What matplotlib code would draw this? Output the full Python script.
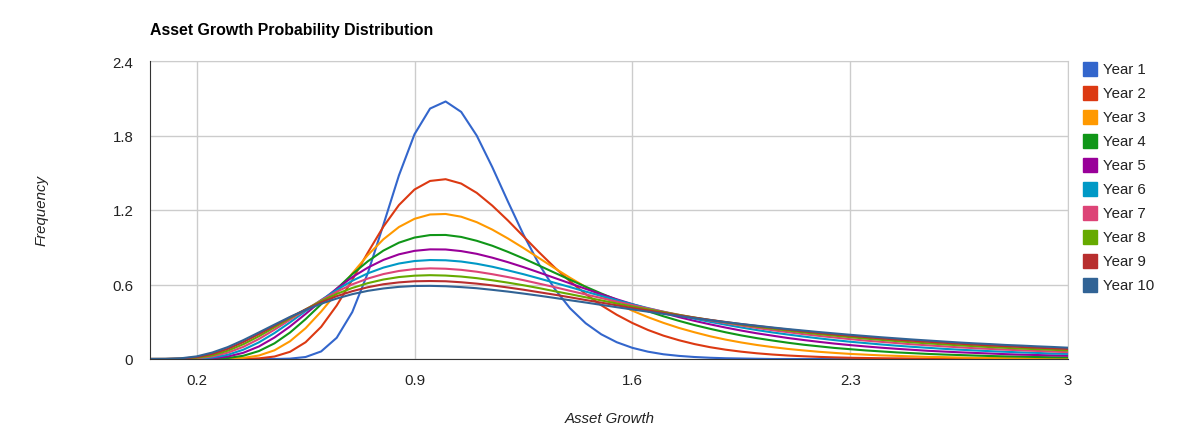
import numpy as np
import matplotlib
matplotlib.use("Agg")
import matplotlib.pyplot as plt
from matplotlib.patches import Rectangle

plt.rcParams['font.family'] = ['Liberation Sans', 'DejaVu Sans']

# asset growth grid (0.05 steps)
growth = [0.05, 0.10, 0.15, 0.20, 0.25, 0.30, 0.35, 0.40, 0.45, 0.50,
          0.55, 0.60, 0.65, 0.70, 0.75, 0.80, 0.85, 0.90, 0.95, 1.00,
          1.05, 1.10, 1.15, 1.20, 1.25, 1.30, 1.35, 1.40, 1.45, 1.50,
          1.55, 1.60, 1.65, 1.70, 1.75, 1.80, 1.85, 1.90, 1.95, 2.00,
          2.05, 2.10, 2.15, 2.20, 2.25, 2.30, 2.35, 2.40, 2.45, 2.50,
          2.55, 2.60, 2.65, 2.70, 2.75, 2.80, 2.85, 2.90, 2.95, 3.00]

year1 = [0, 0, 0, 0, 0, 0, 0, 0, 0, 0.003,
         0.016, 0.061, 0.171, 0.378, 0.692, 1.081, 1.479, 1.810, 2.017, 2.074,
         1.990, 1.799, 1.545, 1.269, 1.002, 0.764, 0.566, 0.408, 0.288, 0.199,
         0.135, 0.090, 0.059, 0.038, 0.025, 0.016, 0.010, 0.006, 0.004, 0.002,
         0, 0, 0, 0, 0, 0, 0, 0, 0, 0,
         0, 0, 0, 0, 0, 0, 0, 0, 0, 0]
year2 = [0, 0, 0, 0, 0, 0, 0.001, 0.005, 0.020, 0.058,
         0.135, 0.259, 0.431, 0.637, 0.857, 1.066, 1.240, 1.365, 1.434, 1.448,
         1.413, 1.338, 1.235, 1.116, 0.988, 0.860, 0.738, 0.625, 0.523, 0.433,
         0.356, 0.290, 0.234, 0.188, 0.151, 0.120, 0.095, 0.075, 0.059, 0.046,
         0.036, 0.028, 0.022, 0.017, 0.013, 0.010, 0.008, 0.006, 0.005, 0.004,
         0.003, 0.002, 0.002, 0.001, 0.001, 0.001, 0.001, 0, 0, 0]
year3 = [0, 0, 0, 0, 0, 0.002, 0.009, 0.028, 0.070, 0.143,
         0.248, 0.382, 0.533, 0.689, 0.837, 0.964, 1.063, 1.129, 1.164, 1.168,
         1.146, 1.102, 1.042, 0.971, 0.894, 0.813, 0.732, 0.654, 0.580, 0.510,
         0.447, 0.389, 0.337, 0.291, 0.250, 0.215, 0.183, 0.156, 0.133, 0.113,
         0.096, 0.081, 0.069, 0.058, 0.049, 0.041, 0.035, 0.029, 0.025, 0.021,
         0.017, 0.015, 0.012, 0.010, 0.009, 0.007, 0.006, 0.005, 0.004, 0.004]
year4 = [0, 0, 0, 0, 0.002, 0.008, 0.026, 0.064, 0.126, 0.213,
         0.321, 0.441, 0.565, 0.683, 0.787, 0.873, 0.937, 0.978, 0.998, 0.999,
         0.983, 0.952, 0.912, 0.863, 0.810, 0.753, 0.695, 0.638, 0.582, 0.528,
         0.477, 0.429, 0.385, 0.344, 0.307, 0.273, 0.243, 0.215, 0.190, 0.168,
         0.149, 0.131, 0.115, 0.102, 0.089, 0.079, 0.069, 0.061, 0.053, 0.047,
         0.041, 0.036, 0.032, 0.028, 0.024, 0.021, 0.019, 0.016, 0.014, 0.013]
year5 = [0, 0, 0, 0.001, 0.005, 0.020, 0.050, 0.101, 0.173, 0.262,
         0.363, 0.467, 0.567, 0.659, 0.736, 0.798, 0.843, 0.871, 0.883, 0.882,
         0.869, 0.847, 0.816, 0.780, 0.740, 0.697, 0.653, 0.609, 0.565, 0.522,
         0.481, 0.442, 0.405, 0.370, 0.337, 0.307, 0.279, 0.253, 0.229, 0.207,
         0.188, 0.169, 0.153, 0.138, 0.124, 0.112, 0.101, 0.091, 0.082, 0.074,
         0.066, 0.060, 0.054, 0.049, 0.044, 0.039, 0.035, 0.032, 0.029, 0.026]
year6 = [0, 0, 0, 0.003, 0.012, 0.034, 0.075, 0.134, 0.209, 0.295,
         0.386, 0.475, 0.557, 0.630, 0.690, 0.736, 0.769, 0.789, 0.797, 0.795,
         0.785, 0.767, 0.743, 0.714, 0.683, 0.649, 0.614, 0.579, 0.543, 0.508,
         0.474, 0.441, 0.410, 0.380, 0.351, 0.324, 0.299, 0.276, 0.254, 0.233,
         0.214, 0.197, 0.181, 0.166, 0.152, 0.139, 0.128, 0.117, 0.107, 0.098,
         0.090, 0.082, 0.075, 0.069, 0.063, 0.058, 0.053, 0.049, 0.044, 0.041]
year7 = [0, 0, 0.001, 0.006, 0.021, 0.051, 0.098, 0.161, 0.236, 0.316,
         0.397, 0.473, 0.542, 0.601, 0.648, 0.684, 0.709, 0.724, 0.730, 0.727,
         0.718, 0.703, 0.683, 0.660, 0.635, 0.607, 0.579, 0.549, 0.520, 0.491,
         0.462, 0.434, 0.407, 0.381, 0.356, 0.332, 0.310, 0.289, 0.269, 0.250,
         0.232, 0.216, 0.200, 0.186, 0.173, 0.160, 0.148, 0.138, 0.128, 0.118,
         0.110, 0.102, 0.094, 0.087, 0.081, 0.075, 0.070, 0.065, 0.060, 0.055]
year8 = [0, 0, 0.002, 0.010, 0.030, 0.067, 0.119, 0.183, 0.255, 0.329,
         0.400, 0.466, 0.524, 0.572, 0.611, 0.640, 0.660, 0.671, 0.675, 0.672,
         0.664, 0.651, 0.634, 0.615, 0.594, 0.571, 0.546, 0.522, 0.497, 0.472,
         0.447, 0.423, 0.400, 0.377, 0.355, 0.334, 0.314, 0.295, 0.277, 0.260,
         0.244, 0.229, 0.214, 0.200, 0.188, 0.176, 0.164, 0.154, 0.144, 0.134,
         0.126, 0.118, 0.110, 0.103, 0.096, 0.090, 0.084, 0.079, 0.074, 0.069]
year9 = [0, 0, 0.003, 0.015, 0.041, 0.082, 0.137, 0.201, 0.268, 0.336,
         0.399, 0.456, 0.506, 0.546, 0.578, 0.602, 0.617, 0.626, 0.628, 0.626,
         0.618, 0.607, 0.593, 0.576, 0.558, 0.538, 0.518, 0.497, 0.475, 0.454,
         0.432, 0.411, 0.391, 0.371, 0.351, 0.333, 0.315, 0.298, 0.281, 0.266,
         0.251, 0.237, 0.223, 0.210, 0.198, 0.187, 0.176, 0.166, 0.156, 0.147,
         0.139, 0.131, 0.123, 0.116, 0.109, 0.103, 0.097, 0.091, 0.086, 0.081]
year10 = [0, 0.001, 0.006, 0.021, 0.052, 0.096, 0.152, 0.214, 0.277, 0.339,
          0.395, 0.445, 0.487, 0.522, 0.549, 0.568, 0.581, 0.588, 0.589, 0.586,
          0.579, 0.570, 0.557, 0.543, 0.527, 0.510, 0.492, 0.473, 0.455, 0.436,
          0.417, 0.399, 0.381, 0.363, 0.346, 0.329, 0.313, 0.297, 0.282, 0.268,
          0.254, 0.241, 0.229, 0.217, 0.206, 0.195, 0.185, 0.175, 0.166, 0.157,
          0.149, 0.141, 0.133, 0.126, 0.120, 0.113, 0.108, 0.102, 0.097, 0.091]

series = [year1, year2, year3, year4, year5, year6, year7, year8, year9, year10]
names = ["Year %d" % (i + 1) for i in range(10)]
colors = ['#3366cc', '#dc3912', '#ff9900', '#109618', '#990099',
          '#0099c6', '#dd4477', '#66aa00', '#b82e2e', '#316395']

xticks = [0.2, 0.9, 1.6, 2.3, 3.0]
xtick_labels = ['0.2', '0.9', '1.6', '2.3', '3']
yticks = [0, 0.6, 1.2, 1.8, 2.4]
ytick_labels = ['0', '0.6', '1.2', '1.8', '2.4']

W, H = 1195, 439
fig = plt.figure(figsize=(W / 100, H / 100), dpi=100)
ax = fig.add_axes([150 / W, 1 - 360 / H, (1068 - 150) / W, (360 - 62) / H])

for vals, c in zip(series, colors):
    ax.plot(growth, vals, color=c, lw=1.5, solid_joinstyle='round', zorder=3)

ax.set_xlim(0.05, 3.0)
ax.set_ylim(0, 2.4)
ax.set_xticks(xticks)
ax.set_xticklabels(xtick_labels)
ax.set_yticks(yticks)
ax.set_yticklabels(ytick_labels)
ax.grid(True, color='#cccccc', lw=1)
ax.set_axisbelow(True)
ax.tick_params(length=0, labelsize=10.8, colors='#222222')
ax.tick_params(axis='x', pad=10)
ax.tick_params(axis='y', pad=12)
for s in ['top', 'right']:
    ax.spines[s].set_color('#cccccc')
for s in ['left', 'bottom']:
    ax.spines[s].set_color('#333333')
    ax.spines[s].set_zorder(4)

fig.text(150 / W, 1 - 31 / H, "Asset Growth Probability Distribution",
         fontsize=11.4, fontweight='bold', va='center', ha='left')
fig.text(42 / W, 1 - 211 / H, "Frequency", rotation=90, style='italic',
         fontsize=10.8, va='center', ha='center', color='#222222')
fig.text(610 / W, 1 - 419 / H, "Asset Growth", style='italic',
         fontsize=10.8, va='center', ha='center', color='#222222')

# legend on the right
for i, (n, c) in enumerate(zip(names, colors)):
    yc = 70 + i * 24
    fig.patches.append(Rectangle((1083 / W, 1 - (yc + 7) / H), 14 / W, 14 / H,
                                 transform=fig.transFigure, color=c))
    fig.text(1103 / W, 1 - yc / H, n, fontsize=10.8, va='center', ha='left',
             color='#222222')

fig.savefig("out.png", dpi=100)
